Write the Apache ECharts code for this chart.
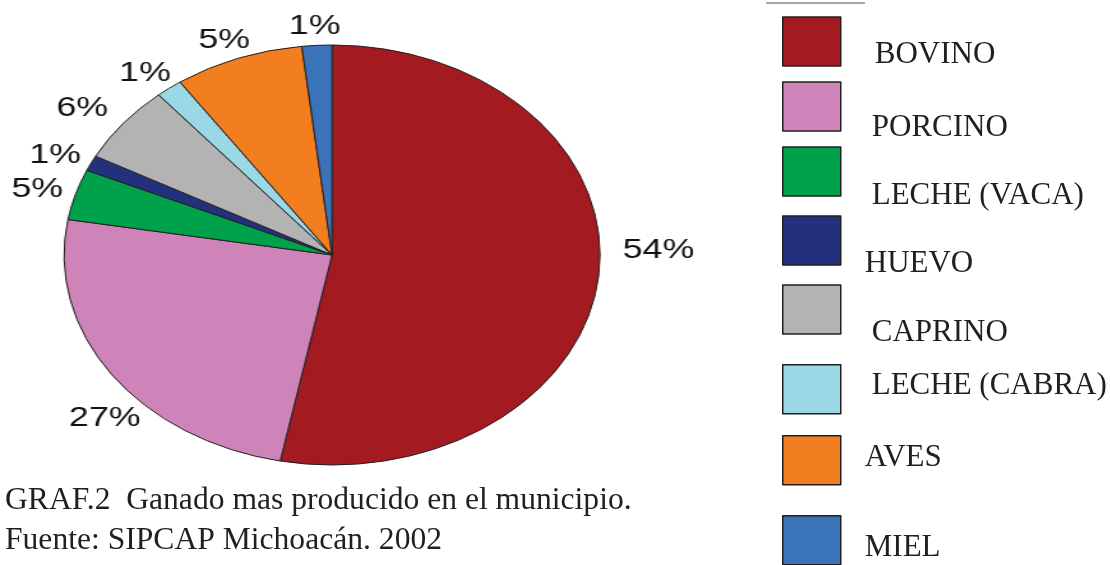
<!DOCTYPE html>
<html>
<head>
<meta charset="utf-8">
<title>GRAF.2 Ganado mas producido en el municipio</title>
<script src="https://cdn.jsdelivr.net/npm/echarts@6/dist/echarts.min.js"></script>
<style>
    html, body { margin: 0; padding: 0; background: #fff; }
    #wrap { position: relative; width: 1110px; height: 565px; overflow: hidden; }
    /* the pie is drawn as a circle and stretched into the flat ellipse of the original */
    #pie { position: absolute; left: 0; top: 0; width: 600px; height: 565px; transform-origin: 0 0; transform: scaleX(1.276); }
    #main { position: absolute; left: 0; top: 0; width: 1110px; height: 565px; }
</style>
</head>
<body>
<div id="wrap">
    <div id="pie"></div>
    <div id="main"></div>
</div>
<script>
"use strict";

// datos
var categories = ["BOVINO", "PORCINO", "LECHE (VACA)", "HUEVO", "CAPRINO", "LECHE (CABRA)", "AVES", "MIEL"];
// slice sizes as drawn in the picture
var shares = [53.1, 24.6, 3.9, 1.2, 6.0, 1.6, 7.8, 1.8];
// percentages printed next to each slice
var pctLabels = ["54%", "27%", "5%", "1%", "6%", "1%", "5%", "1%"];
var colors = ["#a31a20", "#ce84b9", "#00a14b", "#23307c", "#b3b3b3", "#9ad8e6", "#f37e20", "#3a73b9"];

var captionLines = ["GRAF.2  Ganado mas producido en el municipio.", "Fuente: SIPCAP Michoacán. 2002"];

// layout of the pie (in the unstretched canvas)
var PIE_CX = 260.2;
var PIE_CY = 255;
var PIE_R = 210;
var LABEL_R = 218;
// hand placed labels of the two big slices (like the original), local px
var labelNudge = [[8, -27], [27, 33], [0, 0], [0, 0], [-8, -3], [0, 0], [0, 0], [0, 0]];

// legend layout: square tops, text shift from square centre, text x
var legendTops = [15, 82, 147, 216, 285, 364, 435, 515];
var legendShift = [13.5, 21.5, 24.5, 23.5, 23.5, -3.5, -2.5, 7.5];
var legendTextX = [875, 872, 872, 865, 872, 872, 865, 865];

function pieData(withColor) {
    return categories.map(function (name, i) {
        var item = { name: name, value: shares[i] };
        if (withColor) {
            item.itemStyle = { color: colors[i] };
        }
        return item;
    });
}

// ---- pie ----
var pieChart = echarts.init(document.getElementById("pie"), null, { renderer: "canvas" });
pieChart.setOption({
    animation: false,
    series: [
        {
            type: "pie",
            center: [PIE_CX, PIE_CY],
            radius: PIE_R,
            startAngle: 90,
            clockwise: true,
            silent: true,
            data: pieData(true),
            itemStyle: { borderColor: "#231f20", borderWidth: 1 },
            label: { show: false },
            labelLine: { show: false }
        },
        {
            // ring only used to place the percent labels outside the slices
            type: "pie",
            center: [PIE_CX, PIE_CY],
            radius: [LABEL_R - 10, LABEL_R + 10],
            startAngle: 90,
            clockwise: true,
            silent: true,
            data: pieData(false),
            itemStyle: { color: "rgba(0,0,0,0)", borderWidth: 0 },
            label: {
                show: true,
                position: "inside",
                formatter: function (p) { return pctLabels[p.dataIndex]; },
                fontFamily: "Liberation Sans",
                fontSize: 28,
                color: "#111",
                textBorderWidth: 0
            },
            labelLine: { show: false },
            labelLayout: function (p) {
                // push the label box out so its edge, not its centre, sits on the ring
                var r = p.labelRect;
                var mx = r.x + r.width / 2 - PIE_CX;
                var my = r.y + r.height / 2 - PIE_CY;
                var d = Math.sqrt(mx * mx + my * my) || 1;
                var n = labelNudge[p.dataIndex];
                return { dx: mx / d * r.width / 2 + n[0], dy: my / d * 8 + n[1] };
            }
        }
    ]
});

// ---- legend + caption ----
var legends = categories.map(function (name, i) {
    var s = legendShift[i];
    var lh = Math.max(2, 2 * Math.abs(s));
    // two-line text block is taller than the square when the shift is big
    var over = Math.max(0, lh - 24.5);
    return {
        data: [name],
        left: 782,
        top: legendTops[i] - over,
        padding: 0,
        selectedMode: false,
        icon: "rect",
        itemWidth: 58,
        itemHeight: 49,
        itemStyle: { borderColor: "#231f20", borderWidth: 1.5 },
        // an empty line above/below moves the name off the square's centre
        formatter: function (n) { return s >= 0 ? "\n" + n : n + "\n"; },
        textStyle: {
            fontFamily: "Liberation Serif",
            fontSize: 31,
            lineHeight: lh,
            color: "#231f20",
            padding: [0, 0, 0, legendTextX[i] - 846]
        }
    };
});

var mainChart = echarts.init(document.getElementById("main"), null, { renderer: "canvas" });
mainChart.setOption({
    animation: false,
    legend: legends,
    series: [{
        // same data, kept off screen, feeds the legend
        type: "pie",
        center: [-2000, -2000],
        radius: 10,
        silent: true,
        data: pieData(true),
        itemStyle: { borderColor: "#231f20", borderWidth: 1.5 },
        label: { show: false },
        labelLine: { show: false }
    }],
    graphic: [
        {
            type: "line",
            shape: { x1: 766, y1: 3, x2: 865, y2: 3 },
            style: { stroke: "#8a8a8a", lineWidth: 1.5 }
        },
        {
            type: "text",
            x: 5,
            y: 501,
            style: { text: captionLines[0], font: "31.6px 'Liberation Serif'", fill: "#231f20", verticalAlign: "middle" }
        },
        {
            type: "text",
            x: 5,
            y: 541,
            style: { text: captionLines[1], font: "31.6px 'Liberation Serif'", fill: "#231f20", verticalAlign: "middle" }
        }
    ]
});
</script>
</body>
</html>
